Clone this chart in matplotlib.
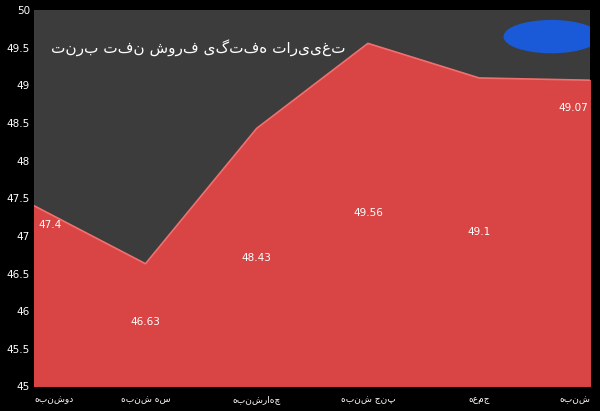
import matplotlib
matplotlib.use("Agg")
import matplotlib.pyplot as plt
from matplotlib.patches import Ellipse

days = ["دوشنبه", "سه شنبه", "چهارشنبه", "پنج شنبه", "جمعه", "شنبه"]
prices = [47.4, 46.63, 48.43, 49.56, 49.1, 49.07]
labels = ["47.4", "46.63", "48.43", "49.56", "49.1", "49.07"]
title = "تغییرات هفتگی فروش نفت برنت"
yticks = [45, 45.5, 46, 46.5, 47, 47.5, 48, 48.5, 49, 49.5, 50]

def rtl(s):
    return s[::-1]

plt.rcParams['font.family'] = ['DejaVu Sans']
fig = plt.figure(figsize=(6, 4.11), dpi=100, facecolor='black')
ax = fig.add_axes([0.057, 0.06, 0.927, 0.915])
ax.set_facecolor('#3c3c3c')
x = list(range(len(prices)))
ax.fill_between(x, 45, prices, color='#d94444', zorder=2)
ax.plot(x, prices, color='#f07070', lw=1.2, zorder=3)
ax.set_xlim(0, len(prices) - 1)
ax.set_ylim(45, 50)
ax.set_yticks(yticks)
ax.set_yticklabels([f"{v:g}" for v in yticks], color='white', fontsize=7.5)
ax.set_xticks(x)
ax.set_xticklabels([rtl(d) for d in days], color='white', fontsize=6.5)
xl = ax.get_xticklabels()
xl[0].set_ha('left'); xl[-1].set_ha('right')
ax.tick_params(axis='y', length=0, pad=3)
ax.tick_params(axis='x', length=0, pad=6)
for s in ax.spines.values():
    s.set_visible(False)
ys = [47.15, 45.85, 46.7, 47.3, 47.05, 48.7]
for xi, y, l in zip(x, ys, labels):
    dx = 0.14 if xi == 0 else (-0.15 if xi == len(x) - 1 else 0)
    ax.text(xi + dx, y, l, color='white', fontsize=7.5, ha='center', va='center', zorder=4)
ax.text(0.03, 0.9, rtl(title), transform=ax.transAxes, color='white',
        fontsize=11, ha='left', va='center', zorder=5)
ax.add_patch(Ellipse((0.93, 0.93), 0.17, 0.085, transform=ax.transAxes,
                     color='#1a5ad8', zorder=5))
fig.savefig('out.png', dpi=100, facecolor='black')
